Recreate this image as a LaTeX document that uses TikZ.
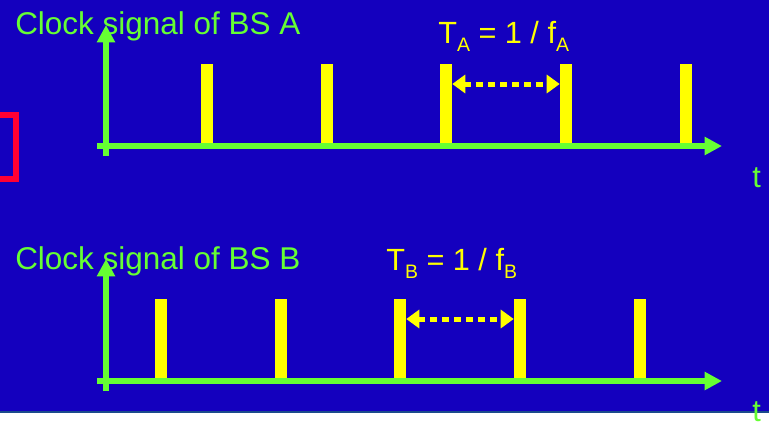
\documentclass[tikz,border=0pt]{standalone}
\usepackage{fontspec}
\setmainfont{Liberation Sans}
\usetikzlibrary{arrows.meta}

\definecolor{slideblue}{RGB}{20,0,190}
\definecolor{axisgreen}{RGB}{102,255,51}
\definecolor{pulseyellow}{RGB}{255,255,0}
\definecolor{markred}{RGB}{255,0,51}
\definecolor{edgeblue}{RGB}{26,74,140}

\tikzset{
  axis/.style={axisgreen, line width=4.5pt, -{Triangle[length=13pt,width=13pt]}},
  pulse/.style={fill=pulseyellow, inner sep=0pt, minimum width=9pt, minimum height=61.5pt},
  period/.style={pulseyellow, line width=3.75pt, dash pattern=on 5pt off 4pt,
    {Triangle[length=9.75pt,width=13.5pt]}-{Triangle[length=9.75pt,width=13.5pt]}},
  title/.style={axisgreen, anchor=base west, inner sep=0pt, font=\fontsize{23.6}{28}\selectfont},
  formula/.style={pulseyellow, anchor=base west, inner sep=0pt, font=\fontsize{23}{28}\selectfont},
  tlabel/.style={axisgreen, anchor=base west, inner sep=0pt, font=\fontsize{23}{28}\selectfont}
}
\newcommand{\lowidx}[1]{\raisebox{-6pt}{\fontsize{14.6}{16}\selectfont #1}}

\begin{document}
\begin{tikzpicture}[x=0.75pt,y=-0.75pt]
\useasboundingbox (0,0) rectangle (769,425);

% Background and lower edge
\fill[slideblue] (0,0) rectangle (769,411);
\fill[edgeblue] (0,410.5) rectangle (769,413);

% Red bracket at the left border
\draw[markred, line width=4.5pt] (-5,115) -- (16,115) -- (16,179) -- (-5,179);

% Clock A
\node[title] (titleA) at (15,34) {Clock signal of BS A};
\foreach \x [count=\i] in {207,327,446,566,686}
{
\node[pulse] (pA\i) at (\x,105) {};
}
\coordinate (tailA) at (97,146);
\coordinate (endA) at (722,146);
\coordinate (bottomA) at (106,156);
\coordinate (topA) at (106,25);
\draw[axis] (tailA) -- (endA);
\draw[axis] (bottomA) -- (topA);
\node[tlabel] (tA) at (752,187) {t};

% Period of A
\coordinate (perA) at (0,84);
\draw[period] (pA3.east |- perA) -- (pA4.west |- perA);
\node[formula] (fA) at (438,43) {T\lowidx{A} = 1 / f\lowidx{A}};

% Clock B
\node[title] (titleB) at (15,269) {Clock signal of BS B};
\foreach \x [count=\i] in {161,281,400,520,640}
{
\node[pulse] (pB\i) at (\x,340) {};
}
\coordinate (tailB) at (97,381);
\coordinate (endB) at (722,381);
\coordinate (bottomB) at (106,391);
\coordinate (topB) at (106,259);
\draw[axis] (tailB) -- (endB);
\draw[axis] (bottomB) -- (topB);
\node[tlabel] (tB) at (752,421) {t};

% Period of B
\coordinate (perB) at (0,319);
\draw[period] (pB3.east |- perB) -- (pB4.west |- perB);
\node[formula] (fB) at (386,270) {T\lowidx{B} = 1 / f\lowidx{B}};

\end{tikzpicture}
\end{document}
